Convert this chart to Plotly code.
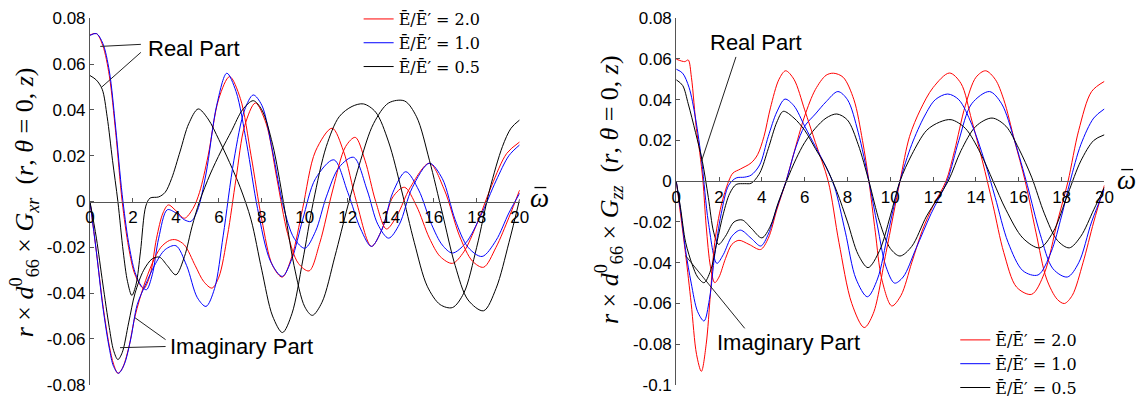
import plotly.graph_objects as go

# ---------------- data : left panel  (G_xr) ----------------
L_red_re_w = [0, 0.3, 0.6, 0.9, 1.2, 1.5, 1.8, 2.1, 2.5, 2.8, 3.1, 3.4, 3.65, 4.0, 4.4, 4.8, 5.1, 5.5, 6.0, 6.5, 7.0, 7.5, 8.0, 8.5, 8.95, 9.4, 9.9, 10.5, 11.27, 11.8, 12.4, 13.1, 13.6, 14.1, 14.64, 15.2, 15.8, 16.3, 16.87, 17.4, 18.0, 18.7, 19.4, 20]
L_red_re_v = [0.0727, 0.0733, 0.068, 0.055, 0.03, 0.0, -0.02, -0.032, -0.038, -0.032, -0.016, -0.005, -0.0015, -0.004, -0.0073, -0.003, 0.004, 0.02, 0.045, 0.0545, 0.045, 0.02, -0.008, -0.028, -0.033, -0.024, -0.003, 0.022, 0.032, 0.022, 0.0, -0.0196, -0.012, 0.002, 0.0062, -0.002, -0.016, -0.024, -0.027, -0.022, -0.01, 0.007, 0.021, 0.026]
L_red_im_w = [0, 0.3, 0.6, 0.9, 1.1, 1.3, 1.5, 1.8, 2.1, 2.5, 2.9, 3.3, 3.7, 4.0, 4.4, 4.9, 5.3, 5.68, 6.0, 6.4, 6.8, 7.2, 7.7, 8.2, 8.7, 9.2, 9.7, 10.2, 10.7, 11.3, 11.9, 12.35, 12.8, 13.3, 13.8, 14.3, 14.9, 15.8, 16.5, 17.2, 17.8, 18.32, 18.9, 19.5, 20]
L_red_im_v = [0.0, -0.022, -0.045, -0.063, -0.071, -0.075, -0.073, -0.064, -0.05, -0.037, -0.027, -0.02, -0.017, -0.0167, -0.019, -0.028, -0.035, -0.0378, -0.033, -0.015, 0.01, 0.033, 0.043, 0.034, 0.01, -0.014, -0.027, -0.0303, -0.018, 0.005, 0.024, 0.028, 0.018, 0.0, -0.012, -0.006, 0.006, 0.0167, 0.005, -0.015, -0.026, -0.0287, -0.02, -0.007, 0.005]

L_blue_re_w = [0, 0.3, 0.6, 0.9, 1.2, 1.5, 1.8, 2.1, 2.4, 2.63, 2.9, 3.2, 3.6, 4.0, 4.4, 4.7, 5.0, 5.4, 5.9, 6.37, 6.8, 7.3, 7.8, 8.4, 8.95, 9.4, 9.9, 10.5, 11.35, 12.0, 12.6, 13.1, 13.6, 14.1, 14.7, 15.3, 15.9, 16.4, 16.87, 17.5, 18.2, 18.9, 19.5, 20]
L_blue_re_v = [0.0725, 0.0733, 0.069, 0.057, 0.032, 0.003, -0.018, -0.031, -0.037, -0.0385, -0.032, -0.016, -0.0036, -0.005, -0.008, -0.0087, -0.004, 0.012, 0.042, 0.056, 0.048, 0.025, -0.003, -0.026, -0.0327, -0.025, -0.008, 0.01, 0.0182, 0.004, -0.012, -0.0196, -0.012, 0.004, 0.013, 0.005, -0.01, -0.019, -0.0225, -0.018, -0.006, 0.009, 0.02, 0.0247]
L_blue_im_w = [0, 0.3, 0.6, 0.9, 1.1, 1.33, 1.6, 1.9, 2.2, 2.6, 3.0, 3.5, 4.0, 4.5, 5.0, 5.4, 5.8, 6.2, 6.7, 7.2, 7.6, 8.0, 8.5, 9.0, 9.5, 10.0, 10.5, 11.0, 11.6, 12.27, 12.9, 13.4, 13.9, 14.4, 15.0, 15.8, 16.4, 17.0, 17.6, 18.25, 18.9, 19.5, 20]
L_blue_im_v = [0.0, -0.022, -0.046, -0.064, -0.072, -0.075, -0.071, -0.06, -0.045, -0.036, -0.028, -0.021, -0.0193, -0.028, -0.042, -0.0458, -0.038, -0.015, 0.018, 0.04, 0.0465, 0.042, 0.022, -0.002, -0.016, -0.0204, -0.013, 0.002, 0.015, 0.0193, 0.005, -0.01, -0.016, -0.01, 0.006, 0.0167, 0.01, -0.008, -0.02, -0.024, -0.017, -0.005, 0.0036]

L_black_re_w = [0, 0.3, 0.57, 0.8, 1.05, 1.3, 1.55, 1.75, 1.95, 2.15, 2.35, 2.6, 2.8, 3.2, 3.5, 3.8, 4.2, 4.6, 5.04, 5.5, 6.0, 6.5, 7.0, 7.5, 8.0, 8.5, 8.96, 9.4, 9.9, 10.4, 11.0, 11.6, 12.2, 12.73, 13.3, 13.9, 14.5, 15.1, 15.7, 16.3, 16.87, 17.4, 18.0, 18.6, 19.2, 19.6, 20]
L_black_re_v = [0.055, 0.053, 0.049, 0.037, 0.018, 0.0, -0.022, -0.035, -0.041, -0.036, -0.022, -0.002, 0.0015, 0.002, 0.004, 0.01, 0.022, 0.034, 0.0404, 0.036, 0.027, 0.017, 0.006, -0.008, -0.03, -0.05, -0.0572, -0.049, -0.026, 0.0, 0.024, 0.037, 0.0415, 0.0426, 0.039, 0.026, 0.005, -0.018, -0.037, -0.045, -0.0463, -0.04, -0.02, 0.005, 0.024, 0.032, 0.0356]
L_black_im_w = [0, 0.3, 0.6, 0.9, 1.1, 1.3, 1.5, 1.8, 2.1, 2.5, 2.9, 3.24, 3.6, 4.0, 4.4, 4.75, 5.1, 5.6, 6.1, 6.6, 7.1, 7.6, 8.0, 8.5, 9.0, 9.5, 10.0, 10.35, 10.8, 11.4, 12.0, 12.6, 13.2, 13.9, 14.64, 15.2, 15.8, 16.4, 17.0, 17.6, 18.32, 18.9, 19.5, 20]
L_black_im_v = [0.0, -0.016, -0.036, -0.055, -0.065, -0.069, -0.066, -0.053, -0.04, -0.03, -0.025, -0.0243, -0.028, -0.032, -0.024, -0.011, 0.0, 0.012, 0.022, 0.031, 0.04, 0.044, 0.04, 0.025, 0.0, -0.028, -0.046, -0.0497, -0.044, -0.024, -0.002, 0.018, 0.034, 0.043, 0.0439, 0.037, 0.018, -0.005, -0.028, -0.043, -0.0477, -0.038, -0.018, 0.001]

# ---------------- data : right panel  (G_zz) ----------------
R_red_re_w = [0, 0.4, 0.56, 0.71, 0.94, 1.1, 1.25, 1.4, 1.6, 1.8, 2.0, 2.3, 2.6, 2.93, 3.4, 3.94, 4.3, 4.7, 5.13, 5.5, 6.0, 6.5, 7.0, 7.35, 7.8, 8.3, 8.7, 9.0, 9.3, 9.6, 10.07, 10.5, 11.0, 11.5, 12.0, 12.6, 13.0, 13.5, 14.0, 14.45, 14.9, 15.3, 15.8, 16.3, 16.8, 17.3, 17.8, 18.13, 18.5, 19.0, 19.5, 20]
R_red_re_v = [0.0599, 0.0587, 0.0595, 0.051, 0.026, 0.014, 0.0, -0.022, -0.042, -0.0498, -0.047, -0.038, -0.031, -0.029, -0.031, -0.0335, -0.028, -0.014, 0.0, 0.014, 0.032, 0.045, 0.052, 0.053, 0.051, 0.04, 0.02, 0.0, -0.025, -0.048, -0.0612, -0.056, -0.04, -0.024, -0.012, 0.0, 0.015, 0.037, 0.051, 0.0542, 0.05, 0.04, 0.02, 0.0, -0.025, -0.048, -0.058, -0.06, -0.056, -0.04, -0.02, -0.002]
R_red_im_w = [0, 0.2, 0.44, 0.7, 0.95, 1.175, 1.4, 1.6, 1.8, 2.1, 2.45, 2.65, 3.0, 3.5, 3.8, 4.1, 4.4, 4.8, 5.11, 5.5, 6.0, 6.5, 7.1, 7.6, 8.2, 8.78, 9.2, 9.8, 10.45, 10.9, 11.4, 12.0, 12.76, 13.3, 13.8, 14.3, 14.8, 15.3, 15.9, 16.6, 17.2, 17.8, 18.3, 18.8, 19.4, 20]
R_red_im_v = [0.0, -0.016, -0.036, -0.06, -0.085, -0.0933, -0.08, -0.055, -0.03, -0.012, 0.0, 0.004, 0.006, 0.009, 0.013, 0.022, 0.036, 0.05, 0.0542, 0.05, 0.035, 0.019, 0.0, -0.03, -0.06, -0.0718, -0.065, -0.035, 0.0, 0.022, 0.035, 0.046, 0.0531, 0.048, 0.03, 0.01, -0.012, -0.035, -0.052, -0.0555, -0.045, -0.02, 0.0, 0.025, 0.044, 0.049]

R_blue_re_w = [0, 0.3, 0.6, 0.9, 1.2, 1.5, 1.9, 2.2, 2.6, 3.0, 3.5, 3.95, 4.3, 4.7, 5.13, 5.6, 6.0, 6.5, 7.0, 7.55, 8.0, 8.5, 9.0, 9.4, 9.8, 10.2, 10.6, 11.2, 11.9, 12.65, 13.2, 13.8, 14.63, 15.2, 15.8, 16.4, 17.0, 17.6, 18.27, 18.8, 19.4, 20]
R_blue_re_v = [0.055, 0.053, 0.046, 0.031, 0.009, -0.02, -0.0403, -0.036, -0.027, -0.024, -0.028, -0.0318, -0.026, -0.013, 0.0, 0.017, 0.027, 0.033, 0.039, 0.044, 0.04, 0.024, 0.0, -0.022, -0.042, -0.05, -0.047, -0.033, -0.016, 0.0, 0.02, 0.038, 0.044, 0.038, 0.02, -0.002, -0.026, -0.043, -0.047, -0.04, -0.02, -0.004]
R_blue_im_w = [0, 0.2, 0.44, 0.7, 1.0, 1.3, 1.55, 1.8, 2.1, 2.45, 2.8, 3.2, 3.5, 3.9, 4.3, 4.7, 5.08, 5.5, 6.0, 6.5, 7.0, 7.4, 7.9, 8.4, 8.93, 9.4, 9.9, 10.45, 11.0, 11.6, 12.1, 12.68, 13.2, 13.8, 14.4, 14.9, 15.5, 16.2, 16.9, 17.5, 18.0, 18.4, 18.9, 19.5, 20]
R_blue_im_v = [0.0, -0.014, -0.034, -0.05, -0.064, -0.0686, -0.058, -0.036, -0.016, -0.002, 0.0016, 0.002, 0.003, 0.008, 0.022, 0.034, 0.0403, 0.037, 0.027, 0.017, 0.007, -0.003, -0.025, -0.048, -0.0567, -0.048, -0.025, 0.0, 0.018, 0.032, 0.04, 0.0428, 0.04, 0.028, 0.01, -0.008, -0.03, -0.044, -0.046, -0.035, -0.017, 0.0, 0.018, 0.031, 0.0355]

R_black_re_w = [0, 0.3, 0.56, 0.9, 1.22, 1.5, 1.75, 1.98, 2.3, 2.7, 3.08, 3.5, 4.0, 4.4, 4.75, 5.15, 5.6, 6.0, 6.5, 7.0, 7.5, 8.0, 8.5, 9.0, 9.5, 10.0, 10.45, 11.0, 11.7, 12.7, 13.3, 14.0, 14.75, 15.4, 16.0, 16.6, 17.2, 17.8, 18.36, 18.9, 19.5, 20]
R_black_re_v = [0.0498, 0.047, 0.038, 0.024, 0.0098, -0.008, -0.025, -0.031, -0.027, -0.02, -0.019, -0.023, -0.0278, -0.022, -0.011, 0.0, 0.011, 0.019, 0.026, 0.031, 0.033, 0.03, 0.018, 0.0, -0.02, -0.033, -0.0367, -0.032, -0.017, 0.0, 0.015, 0.027, 0.031, 0.027, 0.016, 0.002, -0.016, -0.029, -0.0327, -0.027, -0.014, -0.003]
R_black_im_w = [0, 0.2, 0.44, 0.75, 1.0, 1.3, 1.6, 1.9, 2.2, 2.5, 2.8, 3.2, 3.5, 3.9, 4.3, 4.7, 5.0, 5.5, 6.0, 6.5, 7.0, 7.5, 8.0, 8.5, 8.96, 9.5, 10.0, 10.45, 11.0, 11.7, 12.3, 12.84, 13.5, 14.2, 14.8, 15.4, 16.2, 16.98, 17.6, 18.3, 18.9, 19.5, 20]
R_black_im_v = [0.0, -0.013, -0.03, -0.041, -0.047, -0.0498, -0.044, -0.03, -0.016, -0.006, -0.0016, -0.0012, -0.001, 0.004, 0.016, 0.029, 0.0343, 0.031, 0.025, 0.016, 0.007, -0.005, -0.02, -0.036, -0.0424, -0.034, -0.017, 0.0, 0.013, 0.025, 0.029, 0.0302, 0.026, 0.014, 0.0, -0.014, -0.028, -0.0327, -0.025, -0.006, 0.01, 0.02, 0.0228]

series_names = ["E\u0304/E\u0304\u2032 = 2.0", "E\u0304/E\u0304\u2032 = 1.0", "E\u0304/E\u0304\u2032 = 0.5"]
series_colors = ["#ff0000", "#0000ff", "#000000"]
x_ticks = list(range(0, 21, 2))
yL_ticks = [0.08, 0.06, 0.04, 0.02, 0, -0.02, -0.04, -0.06, -0.08]
yL_text = ["0.08", "0.06", "0.04", "0.02", "0", "-0.02", "-0.04", "-0.06", "-0.08"]
yR_ticks = [0.08, 0.06, 0.04, 0.02, 0, -0.02, -0.04, -0.06, -0.08, -0.1]
yR_text = ["0.08", "0.06", "0.04", "0.02", "0", "-0.02", "-0.04", "-0.06", "-0.08", "-0.1"]

left = [(L_red_re_w, L_red_re_v, L_red_im_w, L_red_im_v),
        (L_blue_re_w, L_blue_re_v, L_blue_im_w, L_blue_im_v),
        (L_black_re_w, L_black_re_v, L_black_im_w, L_black_im_v)]
right = [(R_red_re_w, R_red_re_v, R_red_im_w, R_red_im_v),
         (R_blue_re_w, R_blue_re_v, R_blue_im_w, R_blue_im_v),
         (R_black_re_w, R_black_re_v, R_black_im_w, R_black_im_v)]

W, H = 1148, 405
MT, MB = 18, 19
PH = H - MT - MB


def py(ypx):
    """pixel row -> paper fraction"""
    return (H - MB - ypx) / PH


fig = go.Figure()


def add(xw, yv, i, xa, ya, leg, show):
    fig.add_trace(go.Scatter(
        x=xw, y=yv, mode="lines", name=series_names[i],
        line=dict(color=series_colors[i], width=1, shape="spline", smoothing=0.9),
        xaxis=xa, yaxis=ya, legend=leg, showlegend=show))


for i, (rw, rv, iw, iv) in enumerate(left):
    add(rw, rv, i, "x", "y", "legend", True)
for i, (rw, rv, iw, iv) in enumerate(left):
    add(iw, iv, i, "x", "y", "legend", False)
for i, (rw, rv, iw, iv) in enumerate(right):
    add(rw, rv, i, "x2", "y2", "legend2", True)
for i, (rw, rv, iw, iv) in enumerate(right):
    add(iw, iv, i, "x2", "y2", "legend2", False)

tickfont = dict(family="Liberation Sans, Arial", size=17, color="black")
axcol = "#555555"


def xax(dom, pos):
    return dict(domain=dom, range=[0, 20], anchor="free", position=pos,
                showline=True, linecolor=axcol, linewidth=1, ticks="inside",
                ticklen=4, tickcolor=axcol, tickvals=x_ticks, showgrid=False,
                zeroline=False, tickfont=tickfont, fixedrange=True)


def yax(rng, tv, tt, anchor):
    return dict(domain=[0, 1], range=rng, anchor=anchor, showline=True,
                linecolor=axcol, linewidth=1, ticks="inside", ticklen=4,
                tickcolor=axcol, tickvals=tv, ticktext=tt, showgrid=False,
                zeroline=False, tickfont=tickfont, fixedrange=True)


legfont = dict(family="DejaVu Serif", size=16, color="black")
fig.update_layout(
    width=W, height=H, margin=dict(l=0, r=0, t=MT, b=MB),
    paper_bgcolor="white", plot_bgcolor="white",
    xaxis=xax([86 / W, 521 / W], 0.5),
    yaxis=yax([-0.0801, 0.0801], yL_ticks, yL_text, "x"),
    xaxis2=xax([679.5 / W, 1113 / W], 0.1 / 0.18),
    yaxis2=yax([-0.1, 0.0801], yR_ticks, yR_text, "x2"),
    legend=dict(x=358 / W, y=py(2), xanchor="left", yanchor="top",
                bgcolor="rgba(0,0,0,0)", tracegroupgap=0, font=legfont),
    legend2=dict(x=962 / W, y=py(324), xanchor="left", yanchor="top",
                 bgcolor="rgba(0,0,0,0)", tracegroupgap=0, font=legfont),
    showlegend=True,
)

ann_font = dict(family="Liberation Sans, Arial", size=22, color="black")
title_font = dict(family="Liberation Serif", size=26, color="black")
omega_font = dict(family="Liberation Serif", size=27, color="black")
annotations = [
    dict(xref="x", yref="y", x=2.6, y=0.0668, text="Real Part", showarrow=False,
         xanchor="left", yanchor="middle", font=ann_font),
    dict(xref="x", yref="y", x=3.62, y=-0.0633, text="Imaginary Part", showarrow=False,
         xanchor="left", yanchor="middle", font=ann_font),
    dict(xref="x2", yref="y2", x=1.5, y=0.068, text="Real Part", showarrow=False,
         xanchor="left", yanchor="middle", font=ann_font),
    dict(xref="x2", yref="y2", x=1.81, y=-0.079, text="Imaginary Part", showarrow=False,
         xanchor="left", yanchor="middle", font=ann_font),
    dict(xref="paper", yref="paper", x=20 / W, y=py(203), textangle=-90, showarrow=False,
         xanchor="center", yanchor="middle",
         text="<i>r</i> × <i>d</i><sup>0</sup><sub>66</sub> × <i>G</i><sub><i>xr</i></sub>  (<i>r</i>, <i>θ</i> = 0, <i>z</i>)",
         font=title_font),
    dict(xref="paper", yref="paper", x=611 / W, y=py(190), textangle=-90, showarrow=False,
         xanchor="center", yanchor="middle",
         text="<i>r</i> × <i>d</i><sup>0</sup><sub>66</sub> × <i>G</i><sub><i>zz</i></sub>  (<i>r</i>, <i>θ</i> = 0, <i>z</i>)",
         font=title_font),
    dict(xref="paper", yref="paper", x=541 / W, y=py(198), text="<i>ω</i>",
         xanchor="center", yanchor="middle", showarrow=False, font=omega_font),
    dict(xref="paper", yref="paper", x=1135 / W, y=py(180), text="<i>ω</i>",
         xanchor="center", yanchor="middle", showarrow=False, font=omega_font),
]
fig.update_layout(annotations=annotations)

lc = dict(color="#222222", width=1)
barc = dict(color="black", width=1.3)
shapes = [
    dict(type="line", xref="x", yref="y", x0=2.37, y0=0.0686, x1=0.48, y1=0.0677, line=lc),
    dict(type="line", xref="x", yref="y", x0=2.37, y0=0.0651, x1=0.53, y1=0.0498, line=lc),
    dict(type="line", xref="x", yref="y", x0=3.52, y0=-0.0603, x1=2.09, y1=-0.0507, line=lc),
    dict(type="line", xref="x", yref="y", x0=3.52, y0=-0.0633, x1=1.40, y1=-0.0638, line=lc),
    dict(type="line", xref="x2", yref="y2", x0=2.79, y0=0.061, x1=1.18, y1=0.0098, line=lc),
    dict(type="line", xref="x2", yref="y2", x0=3.2, y0=-0.0722, x1=0.44, y1=-0.0366, line=lc),
    # bars over the omega axis labels
    dict(type="line", xref="paper", yref="paper", x0=536 / W, x1=548 / W, y0=py(188), y1=py(188), line=barc),
    dict(type="line", xref="paper", yref="paper", x0=1130 / W, x1=1142 / W, y0=py(170), y1=py(170), line=barc),
]
fig.update_layout(shapes=shapes)

fig.write_html("out.html")
